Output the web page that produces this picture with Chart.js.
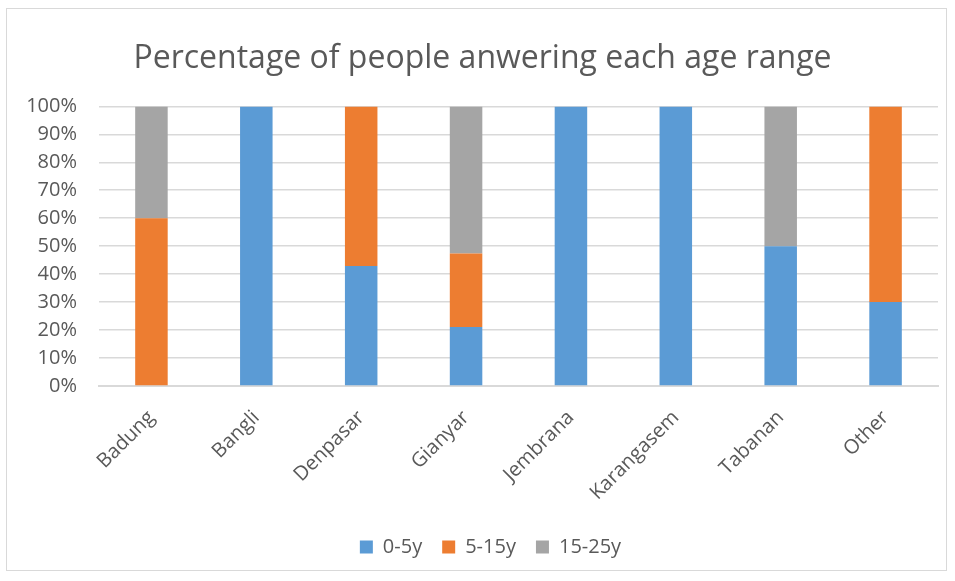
<!DOCTYPE html>
<html>
<head>
<meta charset="utf-8">
<script src="https://cdn.jsdelivr.net/npm/chart.js@4"></script>
<style>
    html, body { margin: 0; padding: 0; background: #fff; }
    #wrap {
        position: absolute; left: 6px; top: 8px;
        width: 941px; height: 563px;
        border: 1px solid #d9d9d9; box-sizing: border-box;
    }
</style>
</head>
<body>
<div id="wrap"><canvas id="chart"></canvas></div>
<script>
    // data (percentages)
    var regions = ['Badung', 'Bangli', 'Denpasar', 'Gianyar', 'Jembrana', 'Karangasem', 'Tabanan', 'Other'];
    var age0to5 = [0, 100, 42.86, 21.05, 100, 100, 50, 30];
    var age5to15 = [60, 0, 57.14, 26.32, 0, 0, 0, 70];
    var age15to25 = [40, 0, 0, 52.63, 0, 0, 50, 0];
    var yTicks = [0, 10, 20, 30, 40, 50, 60, 70, 80, 90, 100];

    var font = "'Open Sans', 'Liberation Sans', sans-serif";
    var textColor = '#595959';

    const data = {
        labels: regions,
        datasets: [
            { label: '0-5y', data: age0to5, backgroundColor: '#5b9bd5' },
            { label: '5-15y', data: age5to15, backgroundColor: '#ed7d31' },
            { label: '15-25y', data: age15to25, backgroundColor: '#a5a5a5' }
        ]
    };

    // nudge title and legend a little to the right, like the original
    const shiftBlocks = {
        id: 'shiftBlocks',
        afterLayout: function (chart) {
            chart.legend.left += 15;
            chart.legend.right += 15;
            chart.titleBlock.left += 7;
            chart.titleBlock.right += 7;
        }
    };

    const options = {
        responsive: true,
        maintainAspectRatio: false,
        animation: false,
        layout: { padding: { left: 6, right: 8, top: 10, bottom: 3 } },
        datasets: { bar: { barPercentage: 0.62, categoryPercentage: 0.5 } },
        plugins: {
            title: {
                display: true,
                text: 'Percentage of people anwering each age range',
                color: textColor,
                font: { family: font, size: 32, weight: 'normal' },
                padding: { top: 21, bottom: 28 }
            },
            legend: {
                position: 'bottom',
                labels: {
                    color: textColor,
                    font: { family: font, size: 20 },
                    boxWidth: 13, boxHeight: 13,
                    padding: 20
                }
            },
            tooltip: { enabled: false }
        },
        scales: {
            x: {
                stacked: true,
                grid: { display: false },
                border: { color: '#d9d9d9', width: 2 },
                ticks: {
                    color: textColor,
                    font: { family: font, size: 20 },
                    minRotation: 45, maxRotation: 45,
                    padding: 12
                }
            },
            y: {
                stacked: true,
                min: 0, max: 100,
                border: { display: false },
                grid: { color: '#d9d9d9', lineWidth: 1.5, drawTicks: false },
                afterBuildTicks: function (axis) {
                    axis.ticks = yTicks.map(function (v) { return { value: v }; });
                },
                afterFit: function (axis) { axis.width = 86; },
                ticks: {
                    color: textColor,
                    font: { family: font, size: 20 },
                    padding: 22,
                    callback: function (v) { return v + '%'; }
                }
            }
        }
    };

    var ctx = document.getElementById('chart');
    var myChart = new Chart(ctx, { type: 'bar', data: data, options: options, plugins: [shiftBlocks] });
</script>
</body>
</html>
